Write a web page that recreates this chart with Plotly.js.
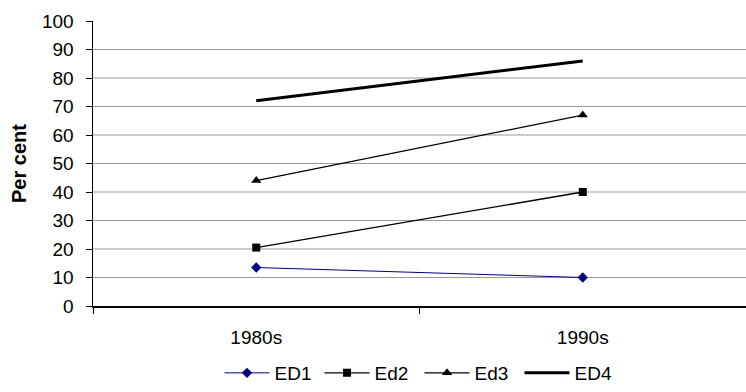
<!DOCTYPE html>
<html>
<head>
<meta charset="utf-8">
<script src="https://cdn.plot.ly/plotly-3.0.1.min.js"></script>
<style>html,body{margin:0;padding:0;background:#fff;}#chart{width:746px;height:392px;}</style>
</head>
<body>
<div id="chart"></div>
<script>
const categories = ["1980s", "1990s"];
const seriesNames = ["ED1", "Ed2", "Ed3", "ED4"];
const ed1 = [13.5, 10];
const ed2 = [20.5, 40];
const ed3 = [44, 67];
const ed4 = [72, 86];
const yTicks = [0, 10, 20, 30, 40, 50, 60, 70, 80, 90, 100];
const gridValues = [10, 20, 30, 40, 50, 60, 70, 80, 90];

const font = "Liberation Sans, Arial, sans-serif";

const traces = [
  {x: categories, y: ed1, name: seriesNames[0], mode: "lines+markers",
   line: {color: "#000080", width: 1}, marker: {symbol: "diamond", size: 8, color: "#000080"}},
  {x: categories, y: ed2, name: seriesNames[1], mode: "lines+markers",
   line: {color: "#000000", width: 1.3}, marker: {symbol: "square", size: 8, color: "#000000"}},
  {x: categories, y: ed3, name: seriesNames[2], mode: "lines+markers",
   line: {color: "#000000", width: 1.3}, marker: {symbol: "triangle-up", size: 9, color: "#000000"}},
  {x: categories, y: ed4, name: seriesNames[3], mode: "lines",
   line: {color: "#000000", width: 3}}
];

const shapes = gridValues.map(v => ({
  type: "line", xref: "paper", yref: "y", x0: 0, x1: 1, y0: v, y1: v,
  line: {color: "#999999", width: 1.2}, layer: "below"
}));

const layout = {
  width: 746, height: 392,
  margin: {l: 93, r: 0, t: 21, b: 83, pad: 0},
  paper_bgcolor: "#ffffff", plot_bgcolor: "#ffffff",
  font: {family: font, size: 19, color: "#000000"},
  showlegend: true,
  legend: {orientation: "h", x: 0.5, xanchor: "center", y: -0.236, yanchor: "middle",
           font: {family: font, size: 19, color: "#000"}, entrywidth: 40, entrywidthmode: "pixels",
           itemwidth: 45, tracegroupgap: 0},
  xaxis: {type: "category", range: [-0.5, 1.5], tickson: "boundaries", ticks: "outside",
          ticklen: 6, tickcolor: "#000", showline: true, linecolor: "#000", linewidth: 1.5,
          showgrid: false, zeroline: false, ticklabelstandoff: 14, fixedrange: true},
  yaxis: {range: [0, 100], tickvals: yTicks, ticktext: yTicks.map(String), ticks: "outside",
          ticklen: 6, tickcolor: "#000", showline: true, linecolor: "#000", linewidth: 1.5,
          showgrid: false, zeroline: false, ticklabelstandoff: 8,
          title: {text: "<b>Per cent</b>", font: {family: font, size: 20}, standoff: 10}},
  shapes: shapes
};

Plotly.newPlot("chart", traces, layout, {displayModeBar: false, staticPlot: true});
</script>
</body>
</html>
